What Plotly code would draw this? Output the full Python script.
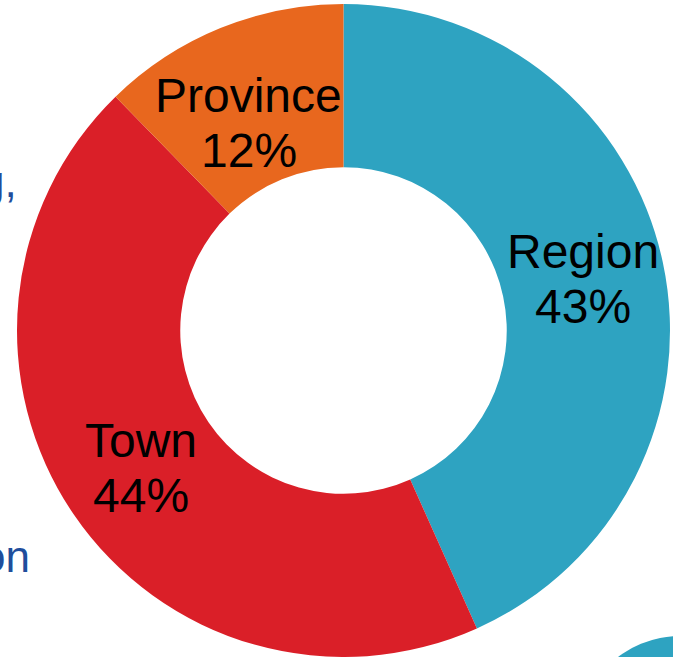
import math
import plotly.graph_objects as go

labels = ["Region", "Town", "Province"]
values = [43.3, 44.4, 12.3]
colors = ["#2EA3C1", "#DA1F28", "#E8671E"]

W, H = 673, 657
cx, cy, r = 343.5, 330.5, 326.5
hole = 0.5
FONT = "Arial, Liberation Sans, sans-serif"
label_size = 48
line_gap = 55  # px between baselines
# label placement: (fraction of outer radius, angle nudge in degrees)
label_place = {"Region": (0.75, 0.0), "Town": (0.75, 0.0), "Province": (0.70, -2.4)}

fig = go.Figure(go.Pie(
    labels=labels,
    values=values,
    hole=hole,
    sort=False,
    direction="clockwise",
    rotation=0,
    marker=dict(colors=colors, line=dict(width=0)),
    textinfo="none",
    domain=dict(x=[(cx - r) / W, (cx + r) / W], y=[1 - (cy + r) / H, 1 - (cy - r) / H]),
    showlegend=False,
    hoverinfo="label+percent",
))

total = sum(values)
cum = 0.0
for lab, v in zip(labels, values):
    frac, nudge = label_place[lab]
    mid = (cum + v / 2) / total * 2 * math.pi + math.radians(nudge)
    cum += v
    rr = frac * r
    px = cx + rr * math.sin(mid)
    py = cy - rr * math.cos(mid)
    pct = f"{round(v / total * 100)}%"
    for txt, dy in ((lab, -line_gap / 2), (pct, line_gap / 2)):
        fig.add_annotation(text=txt, x=px / W, y=1 - (py + dy) / H,
                           xref="paper", yref="paper", xanchor="center", yanchor="middle",
                           showarrow=False, font=dict(family=FONT, size=label_size, color="black"))

# fragments of slide text cut at left edge
fig.add_annotation(text="g,", x=19 / W, y=1 - 181 / H, xref="paper", yref="paper",
                   xanchor="right", yanchor="middle", showarrow=False,
                   font=dict(family=FONT, size=44, color="#1F4E9C"))
fig.add_annotation(text="on", x=32 / W, y=1 - 556 / H, xref="paper", yref="paper",
                   xanchor="right", yanchor="middle", showarrow=False,
                   font=dict(family=FONT, size=44, color="#1F4E9C"))

# decorative circle at bottom right
ccx, ccy, cr = 680, 738, 102
fig.add_shape(type="circle", xref="paper", yref="paper",
              x0=(ccx - cr) / W, x1=(ccx + cr) / W,
              y0=1 - (ccy + cr) / H, y1=1 - (ccy - cr) / H,
              fillcolor="#2EA3C1", line=dict(width=0), layer="above")

fig.update_layout(width=W, height=H, margin=dict(l=0, r=0, t=0, b=0),
                  paper_bgcolor="white", plot_bgcolor="white")

fig.write_html("out.html", config={"displayModeBar": False},
               post_script="document.body.style.margin='0';document.body.style.overflow='hidden';")
